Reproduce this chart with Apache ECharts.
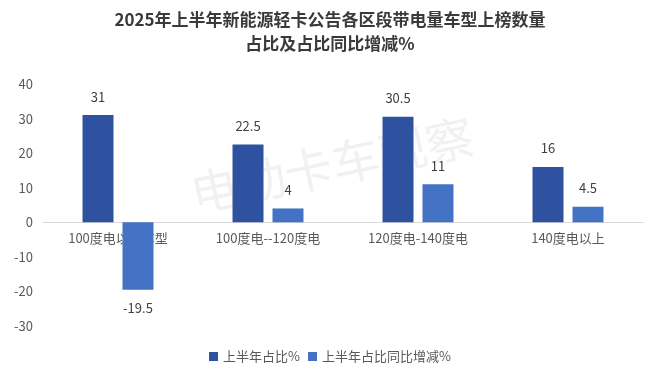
<!DOCTYPE html>
<html><head><meta charset="utf-8">
<script src="https://cdn.jsdelivr.net/npm/echarts@6/dist/echarts.min.js"></script>
<style>html,body{margin:0;padding:0;background:#fff}#c{width:660px;height:384px}</style>
</head><body><div id="c"></div>
<script>
var categories = ['100度电以下车型', '100度电--120度电', '120度电-140度电', '140度电以上'];
var shareValues = [31, 22.5, 30.5, 16];
var changeValues = [-19.5, 4, 11, 4.5];
var seriesNames = ['上半年占比%', '上半年占比同比增减%'];
var yTicks = {min: -30, max: 40, interval: 10};

var chart = echarts.init(document.getElementById('c'));
function toItems(arr) {
  return arr.map(function (v) {
    return {value: v, label: {position: v < 0 ? 'bottom' : 'top'}};
  });
}
var font = '"Noto Sans CJK SC", "Noto Sans", sans-serif';
chart.setOption({
  animation: false,
  textStyle: {fontFamily: font},
  title: {
    text: '2025年上半年新能源轻卡公告各区段带电量车型上榜数量\n占比及占比同比增减%',
    left: 'center', top: 3,
    textStyle: {fontSize: 17, fontWeight: 'bold', color: '#3a3a3a', lineHeight: 24, fontFamily: font}
  },
  graphic: [{
    type: 'text', x: 332, y: 165, rotation: 12 * Math.PI / 180,
    style: {text: '电动卡车观察', font: '48px ' + font, fill: 'rgba(190,190,190,0.22)', textAlign: 'center', textVerticalAlign: 'middle'},
    z: 0
  }],
  legend: {
    bottom: 16, left: 'center', itemWidth: 9, itemHeight: 9, itemGap: 8,
    icon: 'rect',
    textStyle: {fontSize: 13, color: '#595959'},
    data: seriesNames
  },
  grid: {left: 43, right: 17, top: 84, bottom: 58},
  xAxis: {
    type: 'category', data: categories,
    axisLine: {onZero: false, lineStyle: {color: '#d9d9d9', width: 1}},
    axisTick: {show: false},
    axisLabel: {fontSize: 13, color: '#595959', margin: 9}
  },
  yAxis: {
    type: 'value', min: yTicks.min, max: yTicks.max, interval: yTicks.interval,
    splitLine: {show: false}, axisLine: {show: false}, axisTick: {show: false},
    axisLabel: {fontSize: 13, color: '#595959', margin: 10}
  },
  series: [{
    name: seriesNames[0], type: 'bar', data: toItems(shareValues),
    barWidth: 31, barGap: '29%',
    itemStyle: {color: '#2F52A0'},
    label: {show: true, distance: 12, fontSize: 13, color: '#404040'}
  }, {
    name: seriesNames[1], type: 'bar', data: toItems(changeValues),
    barWidth: 31,
    itemStyle: {color: '#4472C4'},
    label: {show: true, distance: 12, fontSize: 13, color: '#404040'}
  }]
});
var zeroY = chart.convertToPixel({yAxisIndex: 0}, 0);
var bottomY = chart.convertToPixel({yAxisIndex: 0}, yTicks.min);
chart.setOption({xAxis: {offset: -(bottomY - zeroY)}});
</script></body></html>
